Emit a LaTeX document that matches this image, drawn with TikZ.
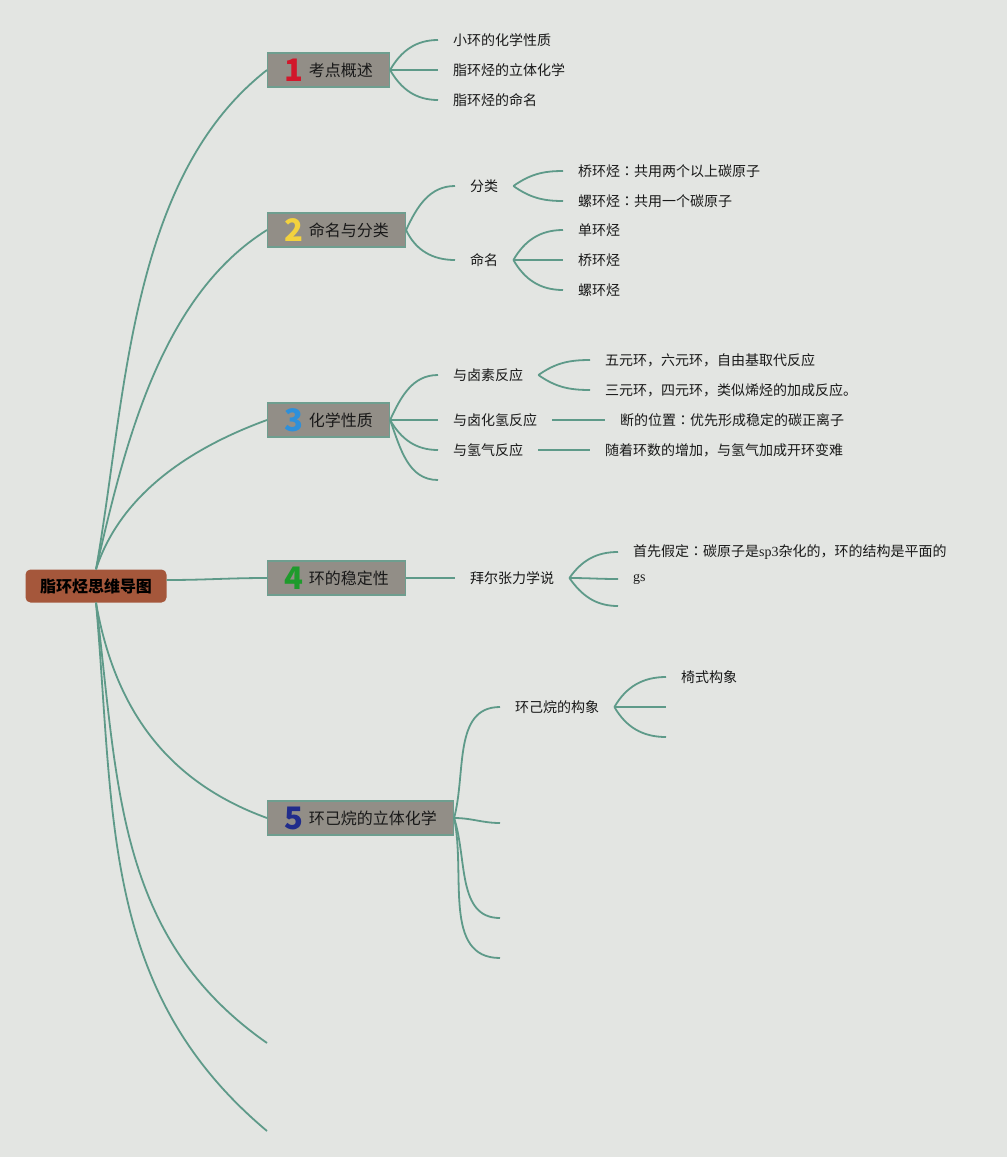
\documentclass[tikz,border=0pt]{standalone}
\usepackage{fontspec}
\setmainfont{Noto Sans CJK SC}
\newfontfamily\serifpart{Liberation Serif}
\newfontfamily\tcfont{Noto Sans CJK TC}
\usepackage{tikz}
\usetikzlibrary{positioning}

\definecolor{bgcol}{HTML}{E3E5E2}
\definecolor{linecol}{HTML}{5E9A89}
\definecolor{boxfill}{HTML}{928E87}
\definecolor{boxline}{HTML}{6E9E8F}
\definecolor{rootfill}{HTML}{A5573B}
\definecolor{numred}{HTML}{D2172B}
\definecolor{numyellow}{HTML}{F3D23E}
\definecolor{numblue}{HTML}{2E90DA}
\definecolor{numgreen}{HTML}{1E9B2C}
\definecolor{numnavy}{HTML}{202C8C}

\newcommand{\bignum}[2]{\smash{\raisebox{-5pt}{\fontsize{31}{31}\selectfont\bfseries\color{#1}#2}}\hspace{6pt}}
\newcommand{\zhcolon}{{\tcfont ：}}

\begin{document}
\begin{tikzpicture}[
    x=1pt, y=-1pt,
    root/.style={fill=rootfill,rounded corners=5pt,minimum width=141pt,minimum height=33pt,
      font=\fontsize{16}{18}\selectfont\bfseries,text=black},
    topic/.style={draw=boxline,line width=1.2pt,fill=boxfill,anchor=west,minimum height=34pt,
      inner xsep=16.5pt,inner ysep=0pt,text height=14pt,text depth=2pt,
      font=\fontsize{16}{18}\selectfont,text=black!90},
    leaf/.style={anchor=west,inner xsep=15pt,inner ysep=2pt,
      font=\fontsize{14}{16}\selectfont,text=black!90},
    link/.style={draw=linecol,line width=1.8pt},
    fan/.style={out=#1,in=180},
    fanmid/.style={out=0,in=180}
    ]

    \fill[bgcol] (0,0) rectangle (1007,1157);
    \useasboundingbox (0,0) rectangle (1007,1157);

    \node[root] (root) at (96,586) {脂环烃思维导图};

    \node[topic] (t1) at (267,70) {\bignum{numred}{1}考点概述};
    \node[topic] (t2) at (267,230) {\bignum{numyellow}{2}命名与分类};
    \node[topic] (t3) at (267,420) {\bignum{numblue}{3}化学性质};
    \node[topic] (t4) at (267,578) {\bignum{numgreen}{4}环的稳定性};
    \node[topic] (t5) at (267,818) {\bignum{numnavy}{5}环己烷的立体化学};
    \coordinate (e1) at (267,1043);
    \coordinate (e2) at (267,1131);

    % 1
    \node[leaf] (c11) at (438,40) {小环的化学性质};
    \node[leaf] (c12) at (438,70) {脂环烃的立体化学};
    \node[leaf] (c13) at (438,100) {脂环烃的命名};

    % 2
    \node[leaf] (c21) at (455,186) {分类};
    \node[leaf] (c22) at (455,260) {命名};
    \node[leaf] (g211) at (563,171) {桥环烃\zhcolon 共用两个以上碳原子};
    \node[leaf] (g212) at (563,201) {螺环烃\zhcolon 共用一个碳原子};
    \node[leaf] (g221) at (563,230) {单环烃};
    \node[leaf] (g222) at (563,260) {桥环烃};
    \node[leaf] (g223) at (563,290) {螺环烃};

    % 3
    \node[leaf] (c31) at (438,375) {与卤素反应};
    \node[leaf] (c32) at (438,420) {与卤化氢反应};
    \node[leaf] (c33) at (438,450) {与氢气反应};
    \coordinate (c34) at (438,480);
    \node[leaf] (g311) at (590,360) {五元环，六元环，自由基取代反应};
    \node[leaf] (g312) at (590,390) {三元环，四元环，类似烯烃的加成反应。};
    \node[leaf] (g321) at (605,420) {断的位置\zhcolon 优先形成稳定的碳正离子};
    \node[leaf] (g331) at (590,450) {随着环数的增加，与氢气加成开环变难};

    % 4
    \node[leaf] (c41) at (455,578) {拜尔张力学说};
    \node[leaf] (g411) at (618,552) {首先假定\zhcolon 碳原子是{\serifpart sp3}杂化的，环的结构是平面的};
    \node[leaf] (g412) at (618,579) {\serifpart gs};
    \coordinate (g413) at (618,606);

    % 5
    \node[leaf] (c51) at (500,707) {环己烷的构象};
    \coordinate (c52) at (500,823);
    \coordinate (c53) at (500,918);
    \coordinate (c54) at (500,958);
    \node[leaf] (g511) at (666,677) {椅式构象};
    \coordinate (g512) at (666,707);
    \coordinate (g513) at (666,737);

    \path[link]
    (root.north) edge[out=80,in=218,looseness=0.85] (t1.west)
    (root.north) edge[out=77,in=212,looseness=0.85] (t2.west)
    (root.north) edge[out=72,in=200,looseness=0.9] (t3.west)
    ([yshift=6pt]root.east) edge[out=0,in=180] (t4.west)
    (root.south) edge[out=-80,in=160] (t5.west)
    (root.south) edge[out=-83,in=145] (e1)
    (root.south) edge[out=-85,in=140] (e2)
    (t1.east) edge[fan=60] (c11.west)
    (t1.east) edge[fanmid] (c12.west)
    (t1.east) edge[fan=-60] (c13.west)
    (t2.east) edge[fan=65] (c21.west)
    (t2.east) edge[fan=-65] (c22.west)
    (c21.east) edge[fan=35] (g211.west)
    (c21.east) edge[fan=-35] (g212.west)
    (c22.east) edge[fan=60] (g221.west)
    (c22.east) edge[fanmid] (g222.west)
    (c22.east) edge[fan=-60] (g223.west)
    (t3.east) edge[fan=65] (c31.west)
    (t3.east) edge[fanmid] (c32.west)
    (t3.east) edge[fan=-60] (c33.west)
    (t3.east) edge[fan=-70] (c34)
    (c31.east) edge[fan=35] (g311.west)
    (c31.east) edge[fan=-35] (g312.west)
    (c32.east) edge[fanmid] (g321.west)
    (c33.east) edge[fanmid] (g331.west)
    (t4.east) edge[fanmid] (c41.west)
    (c41.east) edge[fan=55] (g411.west)
    (c41.east) edge[fanmid] (g412.west)
    (c41.east) edge[fan=-55] (g413)
    (t5.east) edge[fan=75] (c51.west)
    (t5.east) edge[fanmid] (c52)
    (t5.east) edge[fan=-72] (c53)
    (t5.east) edge[fan=-78] (c54)
    (c51.east) edge[fan=60] (g511.west)
    (c51.east) edge[fanmid] (g512)
    (c51.east) edge[fan=-60] (g513)
    ;

\end{tikzpicture}
\end{document}
